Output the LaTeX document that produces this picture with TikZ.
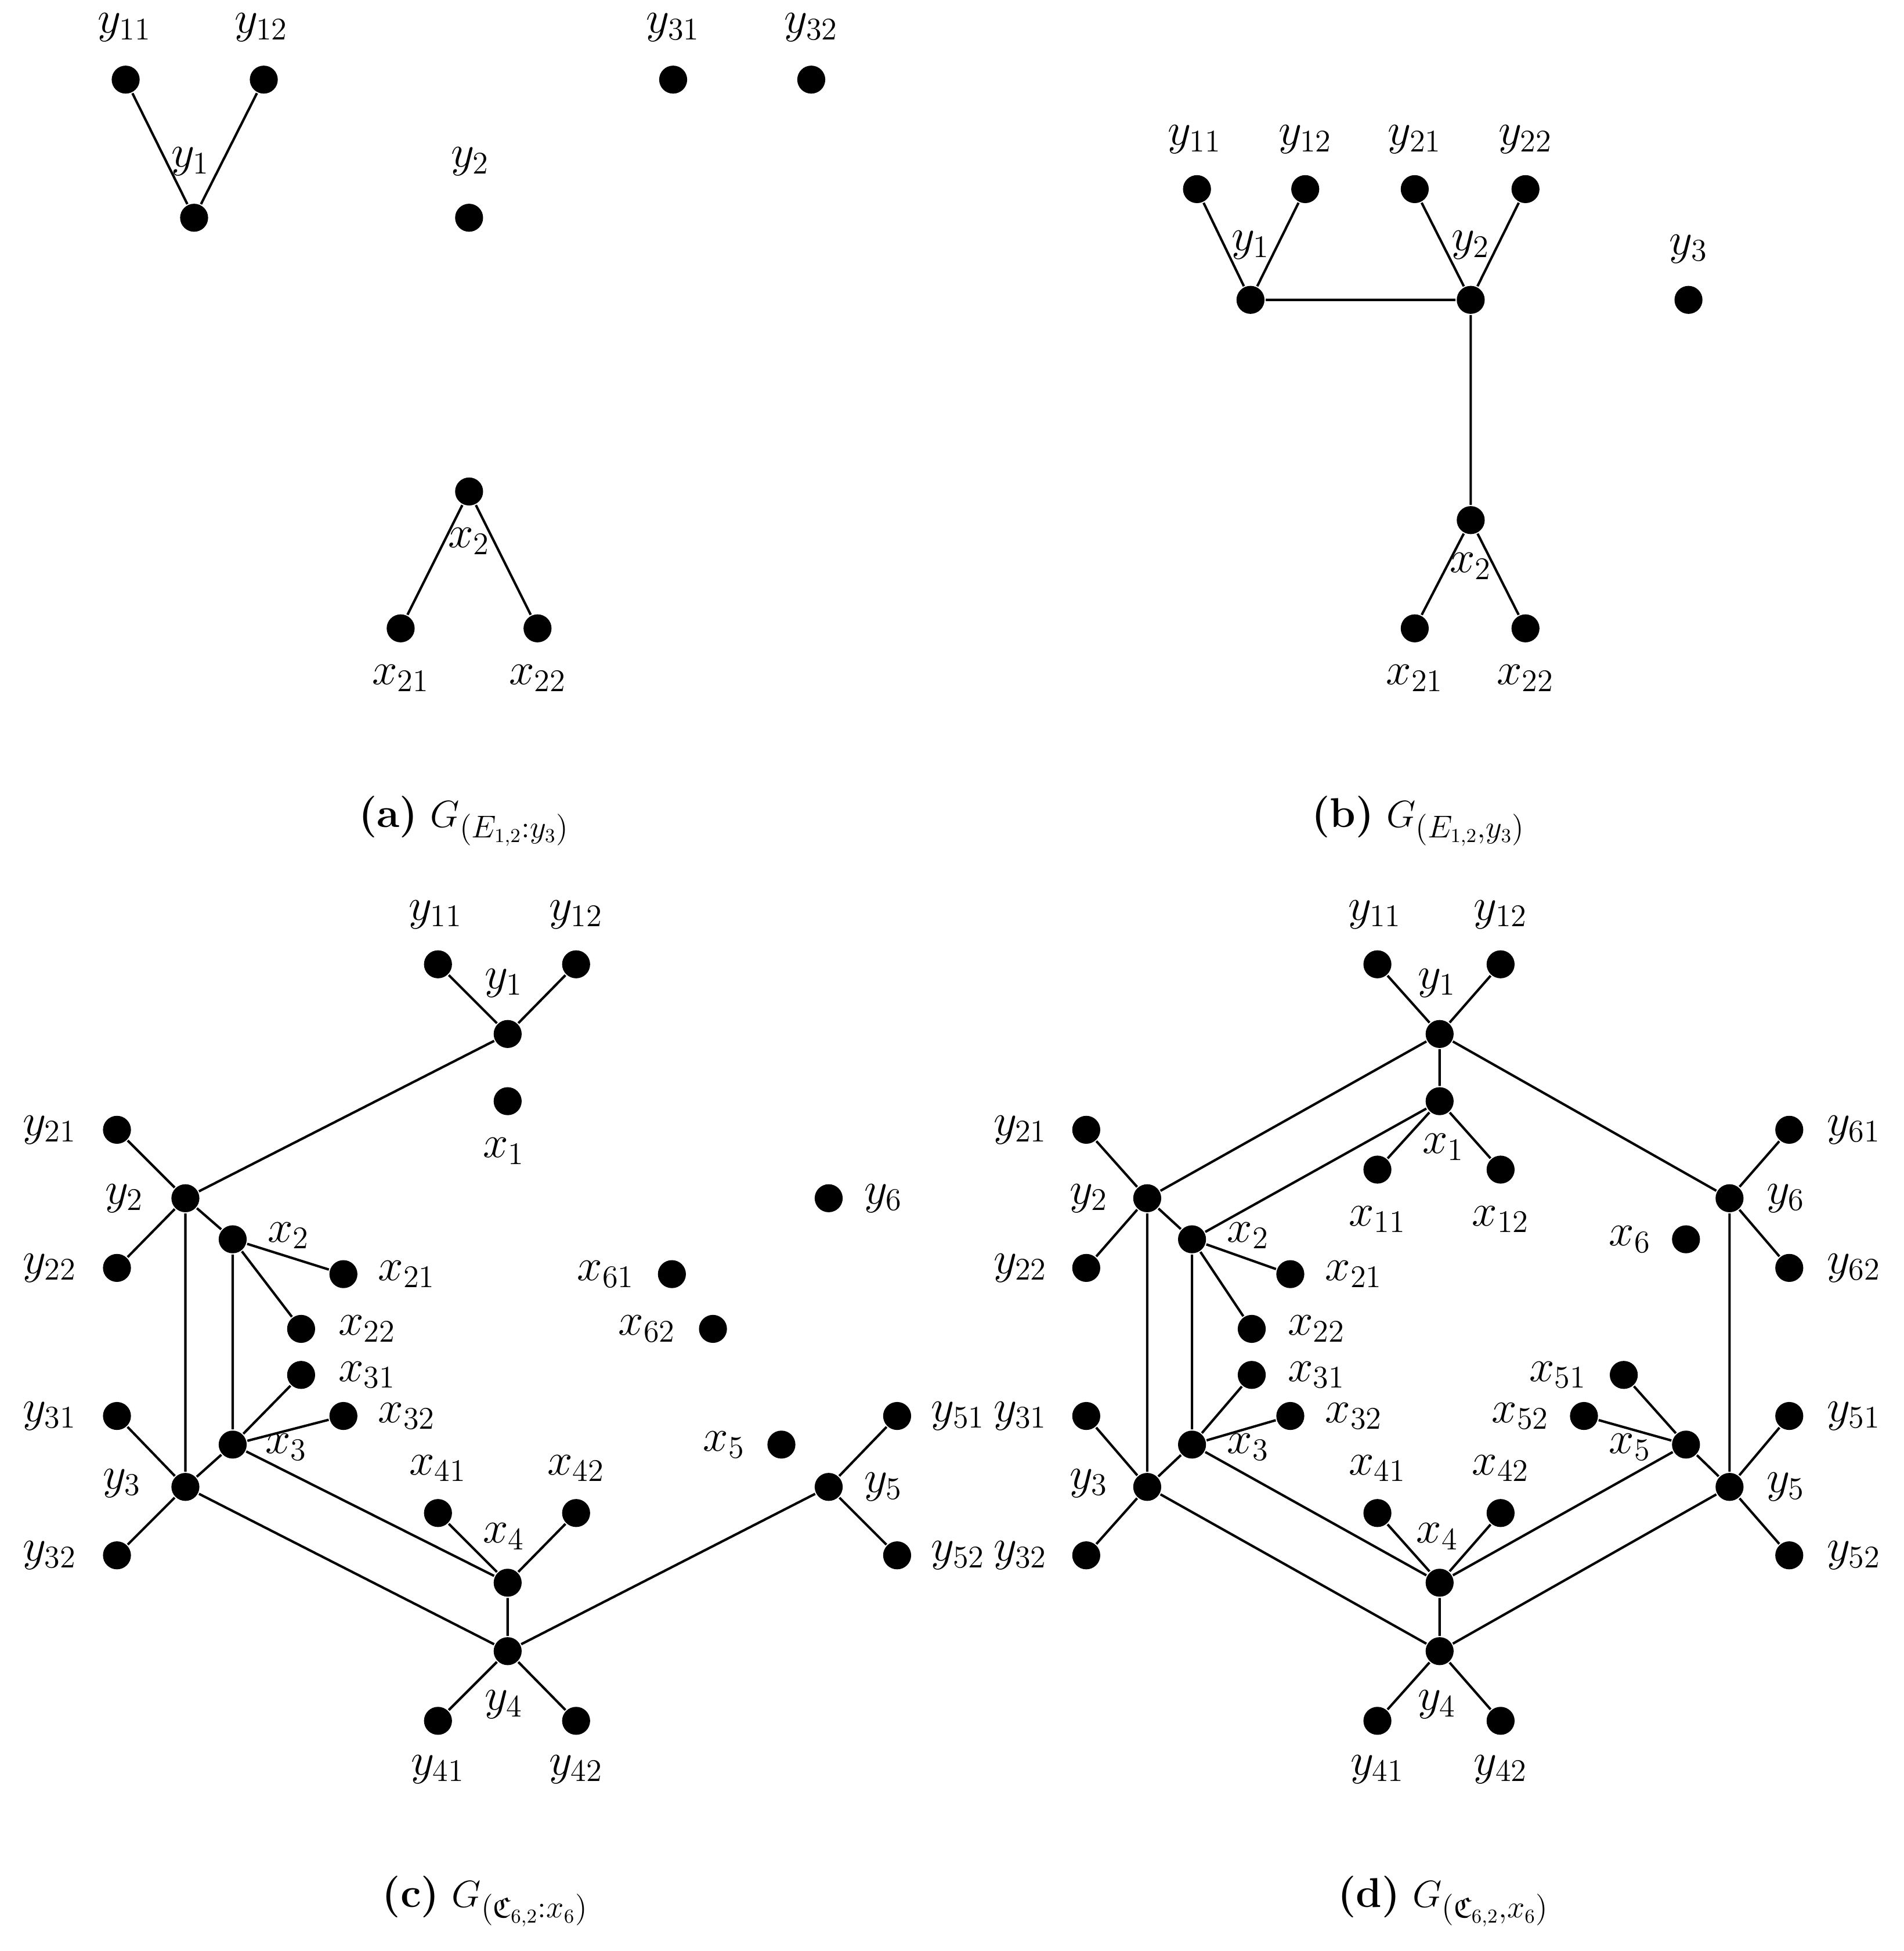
\documentclass[tikz,border=0pt]{standalone}
\usepackage{amsmath,amssymb}
\begin{document}
\begin{tikzpicture}[x=0.02cm,y=-0.02cm,
  v/.style={circle,fill=black,inner sep=0pt,minimum size=0.45cm},
  lb/.style={font=\fontsize{21}{25}\selectfont,inner sep=0pt},
  captxt/.style={font=\fontsize{19}{23}\selectfont},
  every path/.style={line width=1.1pt}]
\useasboundingbox (0,0) rectangle (1530,1568);
\newcommand\V[4]{\node[v] (#1) at (#2,#3) {}; \node[lb] at #4;}
% (a)
\V{a11}{101}{64}{(100,22) {$y_{11}$}}
\V{a12}{212}{64}{(210,22) {$y_{12}$}}
\V{a1}{156}{175}{(153,130) {$y_1$}}
\V{a2}{377}{175}{(378,130) {$y_2$}}
\V{a31}{541}{64}{(541,22) {$y_{31}$}}
\V{a32}{652}{64}{(652,22) {$y_{32}$}}
\V{ax2}{377}{395}{(377,435) {$x_2$}}
\V{ax21}{322}{505}{(322,545) {$x_{21}$}}
\V{ax22}{432}{505}{(432,545) {$x_{22}$}}
\draw (a11)--(a1)--(a12) (ax21)--(ax2)--(ax22);
\node[captxt] at (373,660) {\textbf{(a)} $G_{(E_{1,2}:y_3)}$};
% (b)
\V{b11}{962}{152}{(960,112) {$y_{11}$}}
\V{b12}{1049}{152}{(1049,112) {$y_{12}$}}
\V{b21}{1137}{152}{(1137,112) {$y_{21}$}}
\V{b22}{1226}{152}{(1226,112) {$y_{22}$}}
\V{b1}{1005}{241}{(1005,197) {$y_1$}}
\V{b2}{1182}{241}{(1182,197) {$y_2$}}
\V{b3}{1357}{241}{(1357,200) {$y_3$}}
\V{bx2}{1182}{418}{(1182,455) {$x_2$}}
\V{bx21}{1137}{505}{(1137,545) {$x_{21}$}}
\V{bx22}{1226}{505}{(1226,545) {$x_{22}$}}
\draw (b11)--(b1)--(b12) (b21)--(b2)--(b22) (b1)--(b2)--(bx2) (bx21)--(bx2)--(bx22);
\node[captxt] at (1140,660) {\textbf{(b)} $G_{(E_{1,2},y_3)}$};
% (c)
\V{c11}{352}{775}{(350,735) {$y_{11}$}}
\V{c12}{463}{775}{(463,735) {$y_{12}$}}
\V{c1}{408}{831}{(405,790) {$y_1$}}
\V{cx1}{408}{885}{(405,925) {$x_1$}}
\V{c21}{94}{908}{(40,908) {$y_{21}$}}
\V{c2}{149}{963}{(100,963) {$y_2$}}
\V{c22}{94}{1019}{(40,1019) {$y_{22}$}}
\V{cx2}{187}{996}{(232,993) {$x_2$}}
\V{cx21}{276}{1024}{(327,1024) {$x_{21}$}}
\V{cx22}{242}{1068}{(295,1068) {$x_{22}$}}
\V{cx31}{242}{1105}{(295,1105) {$x_{31}$}}
\V{cx32}{276}{1138}{(327,1138) {$x_{32}$}}
\V{cx3}{187}{1161}{(230,1163) {$x_3$}}
\V{c31}{94}{1138}{(40,1138) {$y_{31}$}}
\V{c3}{149}{1195}{(98,1192) {$y_3$}}
\V{c32}{94}{1250}{(40,1250) {$y_{32}$}}
\V{cx41}{352}{1216}{(352,1180) {$x_{41}$}}
\V{cx42}{463}{1216}{(463,1180) {$x_{42}$}}
\V{cx4}{408}{1272}{(405,1235) {$x_4$}}
\V{c4}{408}{1327}{(405,1370) {$y_4$}}
\V{c41}{352}{1383}{(352,1422) {$y_{41}$}}
\V{c42}{463}{1383}{(463,1422) {$y_{42}$}}
\V{c6}{666}{963}{(710,963) {$y_6$}}
\V{cx61}{540}{1024}{(487,1024) {$x_{61}$}}
\V{cx62}{573}{1068}{(520,1068) {$x_{62}$}}
\V{cx5}{628}{1161}{(582,1161) {$x_5$}}
\V{c5}{666}{1195}{(710,1195) {$y_5$}}
\V{c51}{721}{1138}{(770,1138) {$y_{51}$}}
\V{c52}{721}{1250}{(770,1250) {$y_{52}$}}
\draw (c11)--(c1)--(c12) (c1)--(c2) (c21)--(c2)--(c22) (c2)--(c3) (c2)--(cx2)
  (cx2)--(cx21) (cx2)--(cx22) (cx2)--(cx3) (cx3)--(cx31) (cx3)--(cx32) (cx3)--(cx4)
  (c31)--(c3)--(c32) (c3)--(cx3) (c3)--(c4) (cx41)--(cx4)--(cx42) (cx4)--(c4)
  (c41)--(c4)--(c42) (c4)--(c5) (c51)--(c5)--(c52);
\node[captxt] at (390,1528) {\textbf{(c)} $G_{(\mathfrak{C}_{6,2}:x_6)}$};
% (d)
\V{d11}{1107}{775}{(1105,735) {$y_{11}$}}
\V{d12}{1206}{775}{(1206,735) {$y_{12}$}}
\V{d1}{1157}{831}{(1155,790) {$y_1$}}
\V{dx1}{1157}{885}{(1160,922) {$x_1$}}
\V{dx11}{1107}{940}{(1107,980) {$x_{11}$}}
\V{dx12}{1206}{940}{(1206,980) {$x_{12}$}}
\V{d21}{873}{908}{(820,908) {$y_{21}$}}
\V{d2}{922}{963}{(875,963) {$y_2$}}
\V{d22}{873}{1019}{(820,1019) {$y_{22}$}}
\V{dx2}{958}{996}{(1003,993) {$x_2$}}
\V{dx21}{1037}{1024}{(1088,1024) {$x_{21}$}}
\V{dx22}{1006}{1068}{(1058,1068) {$x_{22}$}}
\V{dx31}{1006}{1105}{(1058,1105) {$x_{31}$}}
\V{dx32}{1037}{1138}{(1088,1138) {$x_{32}$}}
\V{dx3}{958}{1161}{(1003,1163) {$x_3$}}
\V{d31}{873}{1138}{(820,1138) {$y_{31}$}}
\V{d3}{922}{1195}{(875,1192) {$y_3$}}
\V{d32}{873}{1250}{(820,1250) {$y_{32}$}}
\V{dx41}{1107}{1216}{(1107,1180) {$x_{41}$}}
\V{dx42}{1206}{1216}{(1206,1180) {$x_{42}$}}
\V{dx4}{1157}{1272}{(1155,1235) {$x_4$}}
\V{d4}{1157}{1327}{(1155,1370) {$y_4$}}
\V{d41}{1107}{1383}{(1107,1422) {$y_{41}$}}
\V{d42}{1206}{1383}{(1206,1422) {$y_{42}$}}
\V{d6}{1390}{963}{(1435,963) {$y_6$}}
\V{d61}{1438}{908}{(1490,908) {$y_{61}$}}
\V{d62}{1438}{1019}{(1490,1019) {$y_{62}$}}
\V{dx6}{1355}{996}{(1310,996) {$x_6$}}
\V{dx51}{1305}{1105}{(1252,1105) {$x_{51}$}}
\V{dx52}{1273}{1138}{(1222,1138) {$x_{52}$}}
\V{dx5}{1355}{1161}{(1310,1163) {$x_5$}}
\V{d5}{1390}{1195}{(1435,1195) {$y_5$}}
\V{d51}{1438}{1138}{(1490,1138) {$y_{51}$}}
\V{d52}{1438}{1250}{(1490,1250) {$y_{52}$}}
\draw (d11)--(d1)--(d12) (d1)--(d2) (d21)--(d2)--(d22) (d2)--(d3) (d2)--(dx2)
  (dx2)--(dx21) (dx2)--(dx22) (dx2)--(dx3) (dx3)--(dx31) (dx3)--(dx32) (dx3)--(dx4)
  (d31)--(d3)--(d32) (d3)--(dx3) (d3)--(d4) (dx41)--(dx4)--(dx42) (dx4)--(d4)
  (d41)--(d4)--(d42) (d4)--(d5) (d51)--(d5)--(d52)
  (d1)--(dx1) (dx11)--(dx1)--(dx12) (dx1)--(dx2) (d1)--(d6) (d61)--(d6)--(d62) (d6)--(d5)
  (d5)--(dx5) (dx51)--(dx5)--(dx52) (dx5)--(dx4);
\node[captxt] at (1160,1528) {\textbf{(d)} $G_{(\mathfrak{C}_{6,2},x_6)}$};
\end{tikzpicture}
\end{document}
